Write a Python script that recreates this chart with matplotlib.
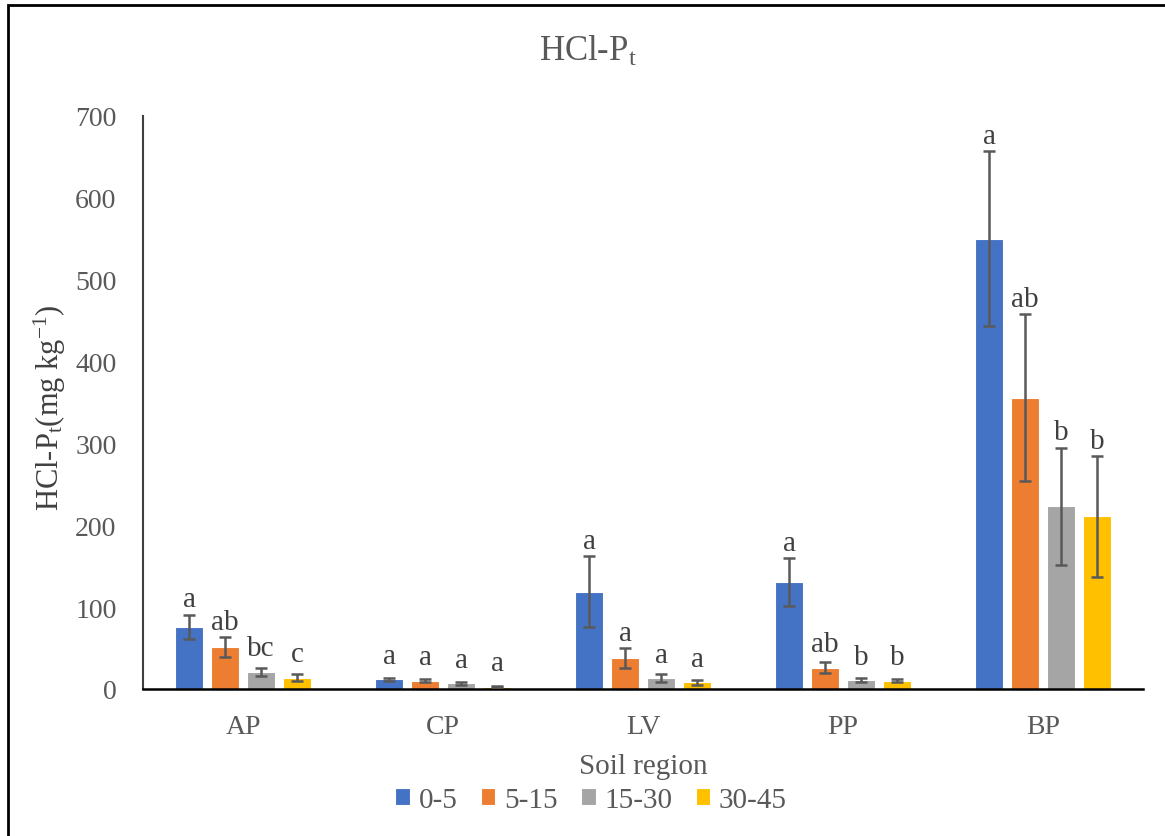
import matplotlib

matplotlib.use("Agg")

import matplotlib.pyplot as plt
import numpy as np
from matplotlib.patches import Rectangle

plt.rcParams["font.family"] = ["Liberation Serif", "DejaVu Serif"]
plt.rcParams["mathtext.fontset"] = "custom"
plt.rcParams["mathtext.rm"] = "Liberation Serif"
plt.rcParams["mathtext.it"] = "Liberation Serif"

REGIONS = ["AP", "CP", "LV", "PP", "BP"]
DEPTHS = ["0-5", "5-15", "15-30", "30-45"]

MEANS = {
    "0-5": [76, 12, 119, 131, 550],
    "5-15": [51, 10, 38, 26, 356],
    "15-30": [21, 7, 13, 11, 223],
    "30-45": [14, 3, 8, 10, 211],
}
ERRORS = {
    "0-5": [15, 2, 43, 29, 107],
    "5-15": [12, 2, 12, 7, 102],
    "15-30": [5, 2, 5, 2, 72],
    "30-45": [4, 1, 3, 2, 74],
}
LETTERS = {
    "0-5": ["a", "a", "a", "a", "a"],
    "5-15": ["ab", "a", "a", "ab", "ab"],
    "15-30": ["bc", "a", "a", "b", "b"],
    "30-45": ["c", "a", "a", "b", "b"],
}

COLORS = {"0-5": "#4472C4", "5-15": "#ED7D31", "15-30": "#A5A5A5", "30-45": "#FFC000"}
TEXT_GREY = "#595959"
SERIF = ["Liberation Serif", "DejaVu Serif"]


def main() -> None:
    fig = plt.figure(figsize=(11.65, 8.37), dpi=100)
    ax = fig.add_axes([143 / 1165, 1 - 690 / 837, 1000 / 1165, 573 / 837])

    x = np.arange(len(REGIONS))
    width = 0.14
    step = 0.18
    for i, depth in enumerate(DEPTHS):
        pos = x + (i - 1.5) * step
        vals = np.array(MEANS[depth])
        errs = np.array(ERRORS[depth])
        ax.bar(pos, vals, width=width, color=COLORS[depth], edgecolor="white",
               linewidth=0.8, label=depth, zorder=2)
        ax.errorbar(pos, vals, yerr=errs, fmt="none", ecolor=TEXT_GREY,
                    elinewidth=1.8, capsize=4.5, capthick=1.8, zorder=3)
        for px, v, e, lab in zip(pos, vals, errs, LETTERS[depth]):
            ly = max(v + e + 10, v + 20)
            ax.text(px, ly, lab, ha="center", va="baseline", fontsize=21,
                    color="#404040")

    ax.set_xlim(-0.5, len(REGIONS) - 0.5)
    ax.set_ylim(0, 700)
    ax.set_yticks(range(0, 701, 100))
    ax.set_xticks(x)
    ax.set_xticklabels(REGIONS)
    ax.tick_params(axis="both", length=0, labelsize=20, colors=TEXT_GREY)
    ax.tick_params(axis="x", pad=18)
    ax.tick_params(axis="y", pad=19)

    for side in ["top", "right"]:
        ax.spines[side].set_visible(False)
    ax.spines["left"].set_color("#404040")
    ax.spines["left"].set_linewidth(1.5)
    ax.spines["bottom"].set_color("black")
    ax.spines["bottom"].set_linewidth(1.8)

    fig.text(50 / 1165, 1 - 408 / 837,
             r"HCl-P$_{\mathrm{t}}$(mg kg$^{\mathrm{-1}}$)", rotation=90,
             ha="center", va="center", fontsize=22, color="#404040")
    fig.text(643 / 1165, 1 - 767 / 837, "Soil region", ha="center", va="center",
             fontsize=21, color=TEXT_GREY)

    fig.text(0.505, 1 - 52 / 837, r"HCl-P$_{\mathrm{t}}$", ha="center", va="center",
             fontsize=25, color=TEXT_GREY)

    leg = fig.legend(*ax.get_legend_handles_labels(), loc="center",
                     bbox_to_anchor=(591 / 1165, 1 - 801 / 837), ncol=4,
                     frameon=False, prop={"family": SERIF, "size": 21},
                     handlelength=0.5, handleheight=0.5,
                     handletextpad=0.3, columnspacing=0.8, borderpad=0)
    for t in leg.get_texts():
        t.set_color(TEXT_GREY)
        t.set_fontfamily(SERIF)

    fig.patches.append(Rectangle((8 / 1165, -0.01), 1.1, 1 - 6 / 837 + 0.01,
                                 transform=fig.transFigure, fill=False,
                                 edgecolor="black", linewidth=2))

    fig.savefig("out.png", dpi=100)
    plt.close(fig)


if __name__ == "__main__":
    main()
